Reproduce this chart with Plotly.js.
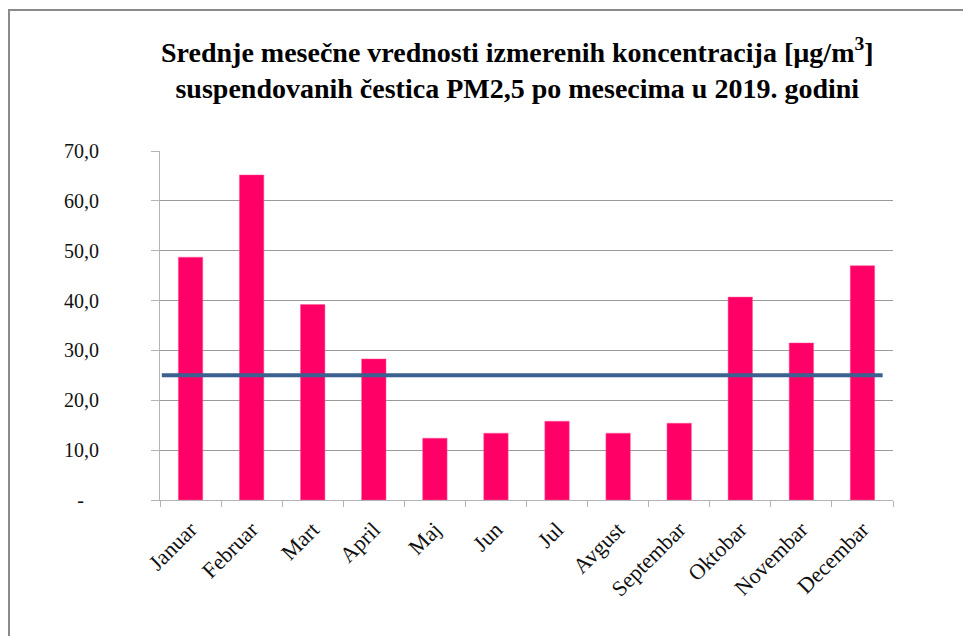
<!DOCTYPE html>
<html>
<head>
<meta charset="utf-8">
<script src="https://cdn.plot.ly/plotly-3.0.1.min.js"></script>
<style>
  html, body { margin: 0; padding: 0; background: #fff; }
  #wrap { position: relative; width: 963px; height: 636px; overflow: hidden; }
  #chart { width: 963px; height: 636px; }
  #frame { position: absolute; left: 8px; top: 9px; width: 1000px; height: 700px;
           border-left: 2px solid #8a8a8a; border-top: 2px solid #8a8a8a; pointer-events: none; }
</style>
</head>
<body>
<div id="wrap">
  <div id="chart"></div>
  <div id="frame"></div>
</div>
<script>
const months = ["Januar","Februar","Mart","April","Maj","Jun","Jul","Avgust","Septembar","Oktobar","Novembar","Decembar"];
const pm25 = [48.7, 65.2, 39.2, 28.3, 12.4, 13.4, 15.8, 13.4, 15.4, 40.7, 31.5, 47.0];
const limitX = [-0.47, 11.33];
const limitY = [25, 25];
const yTickVals = [0, 10, 20, 30, 40, 50, 60, 70];
const yTickText = ["-\u00a0\u00a0\u00a0", "10,0", "20,0", "30,0", "40,0", "50,0", "60,0", "70,0"];
const titleText = "<b>Srednje mesečne vrednosti izmerenih koncentracija [µg/m<sup>3</sup>]</b><br><b>suspendovanih čestica PM2,5 po mesecima u 2019. godini</b>";

const serif = "Liberation Serif";

const traces = [
  {
    type: "bar",
    x: months,
    y: pm25,
    marker: { color: "#FF0066", line: { color: "#FF5C99", width: 0.5 } },
    width: 0.4,
    hoverinfo: "x+y",
    showlegend: false
  },
  {
    type: "scatter",
    mode: "lines",
    x: limitX,
    y: limitY,
    xaxis: "x2",
    line: { color: "#3A6190", width: 4 },
    hoverinfo: "y",
    showlegend: false
  }
];

const layout = {
  width: 963,
  height: 636,
  margin: { l: 160, r: 70, t: 151, b: 136 },
  font: { family: serif, color: "#111111" },
  paper_bgcolor: "#ffffff",
  plot_bgcolor: "#ffffff",
  annotations: [{
    text: titleText,
    xref: "paper", x: 0.488, xanchor: "center",
    yref: "paper", y: 1.345, yanchor: "top",
    showarrow: false,
    align: "center",
    font: { family: serif, size: 28, color: "#000000" }
  }],
  xaxis: {
    type: "category",
    range: [-0.5, 11.5],
    showgrid: false,
    showline: true,
    linecolor: "#b3b3b3",
    linewidth: 1,
    ticks: "outside",
    tickson: "boundaries",
    ticklen: 6,
    tickcolor: "#b3b3b3",
    tickangle: -45,
    ticklabelstandoff: 7,
    tickfont: { family: serif, size: 22, color: "#111111" },
    zeroline: false,
    fixedrange: true
  },
  xaxis2: {
    overlaying: "x",
    range: [-0.5, 11.5],
    visible: false,
    fixedrange: true
  },
  yaxis: {
    range: [0, 70],
    tickvals: yTickVals,
    ticktext: yTickText,
    showgrid: true,
    gridcolor: "#9a9a9a",
    gridwidth: 1,
    showline: true,
    linecolor: "#b3b3b3",
    linewidth: 1,
    ticks: "outside",
    ticklen: 8,
    tickcolor: "#b3b3b3",
    ticklabelstandoff: 48,
    tickfont: { family: serif, size: 20, color: "#111111" },
    zeroline: false,
    fixedrange: true
  },
  bargap: 0.6
};

Plotly.newPlot("chart", traces, layout, { displayModeBar: false, staticPlot: true });
</script>
</body>
</html>
